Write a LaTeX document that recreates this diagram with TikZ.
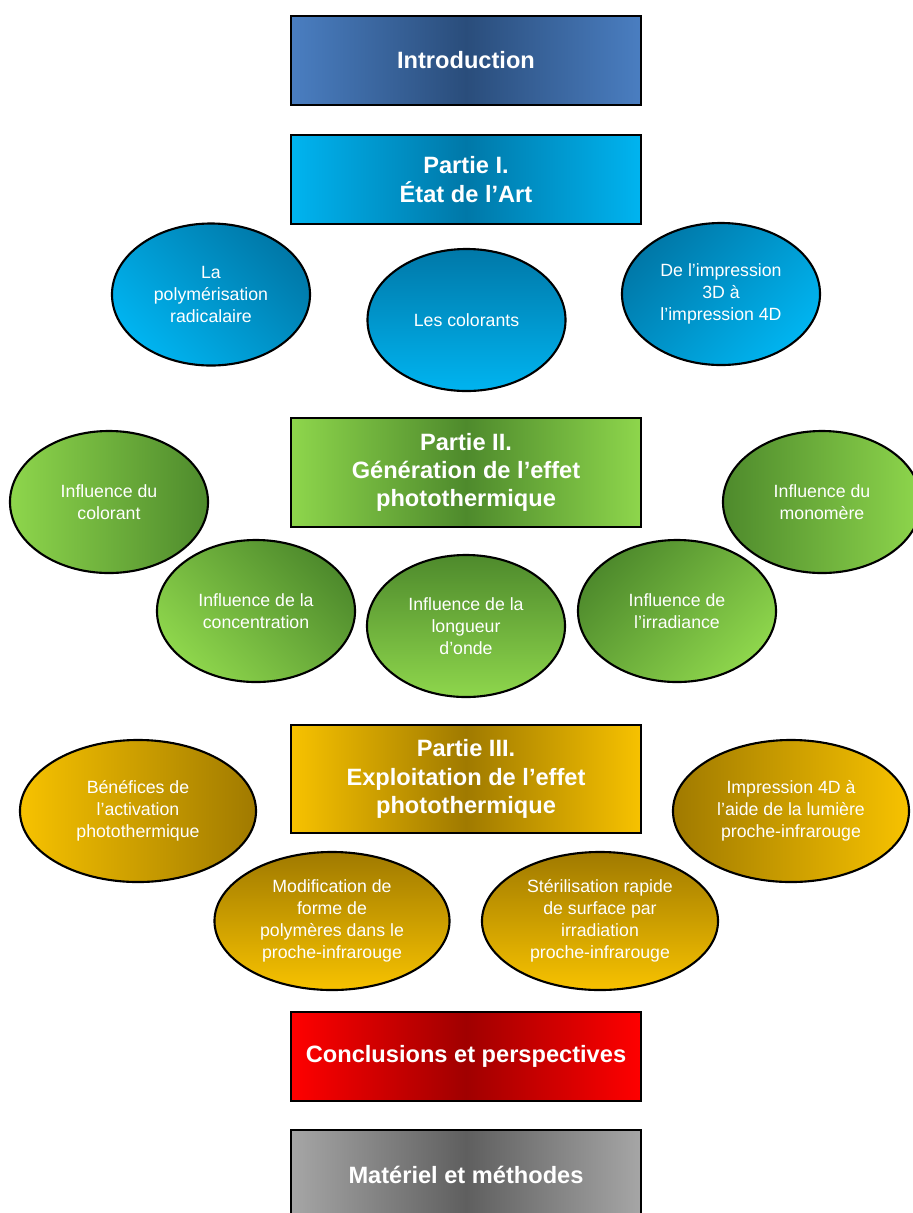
\documentclass[tikz,border=0pt]{standalone}
\usepackage{fontspec}
\setmainfont{Liberation Sans}
\usetikzlibrary{shapes.geometric}

\definecolor{introOut}{HTML}{4A7EC1}
\definecolor{introIn}{HTML}{2A4D7B}
\definecolor{partIOut}{HTML}{00B4F0}
\definecolor{partIIn}{HTML}{0078A8}
\definecolor{partIIOut}{HTML}{8ED64C}
\definecolor{partIIIn}{HTML}{4E8A2C}
\definecolor{partIIIOut}{HTML}{F7C200}
\definecolor{partIIIIn}{HTML}{A07A00}
\definecolor{conclOut}{HTML}{FF0000}
\definecolor{conclIn}{HTML}{A00000}
\definecolor{matOut}{HTML}{A6A6A6}
\definecolor{matIn}{HTML}{5F5F5F}

\begin{document}
\begin{tikzpicture}[x=0.025cm, y=-0.025cm,
	partbox/.style={draw, line width=1.5pt, rectangle, minimum width=8.75cm, minimum height=2.225cm, align=center, text=white, font=\fontsize{16.8}{20}\selectfont\bfseries, left color=#1Out, right color=#1Out, middle color=#1In},
	topic/.style={draw, line width=1.5pt, ellipse, minimum width=4.95cm, minimum height=3.55cm, inner sep=0pt, align=center, text=white, font=\fontsize{12.6}{15.6}\selectfont},
	shadeI/.style={top color=partIIn, bottom color=partIOut, shading angle=#1},
	shadeII/.style={top color=partIIIn, bottom color=partIIOut, shading angle=#1},
	shadeIII/.style={top color=partIIIIn, bottom color=partIIIOut, shading angle=#1}]
	\useasboundingbox (0, 0) rectangle (913, 1213);

	\coordinate (Intro) at (466, 60.5);
	\coordinate (PI) at (466, 179.5);
	\coordinate (PII) at (466, 472.5);
	\coordinate (PIII) at (466, 779);
	\coordinate (Concl) at (466, 1056.5);
	\coordinate (Mat) at (466, 1174.5);

	\node [partbox=intro] (intro) at (Intro) {Introduction};
	\node [partbox=partI] (partI) at (PI) {Partie I.\\État de l’Art};
	\node [partbox=partII, minimum height=2.725cm] (partII) at (PII) {Partie II.\\Génération de l’effet\\photothermique};
	\node [partbox=partIII, minimum height=2.7cm] (partIII) at (PIII) {Partie III.\\Exploitation de l’effet\\photothermique};
	\node [partbox=concl] (concl) at (Concl) {Conclusions et perspectives};
	\node [partbox=mat] (mat) at (Mat) {Matériel et méthodes};

	\node [topic, shadeI=-45] (polym) at (211, 294.5) {La\\polymérisation\\radicalaire};
	\node [topic, shadeI=0] (colorants) at (466.5, 320) {Les colorants};
	\node [topic, shadeI=45] (impr) at (721, 294) {De l’impression\\3D à\\l’impression 4D};

	\node [topic, shadeII=-90] (infColor) at (109, 502) {Influence du\\colorant};
	\node [topic, shadeII=-45] (infConc) at (256, 611) {Influence de la\\concentration};
	\node [topic, shadeII=0] (infLong) at (466, 626) {Influence de la\\longueur\\d’onde};
	\node [topic, shadeII=45] (infIrr) at (677, 611) {Influence de\\l’irradiance};
	\node [topic, shadeII=90] (infMono) at (822, 502) {Influence du\\monomère};

	\node [topic, shadeIII=-90, minimum width=5.9cm] (benef) at (138, 811) {Bénéfices de\\l’activation\\photothermique};
	\node [topic, shadeIII=0, minimum width=5.875cm, minimum height=3.45cm] (modif) at (332, 921) {Modification de\\forme de\\polymères dans le\\proche-infrarouge};
	\node [topic, shadeIII=0, minimum width=5.9cm, minimum height=3.45cm] (steril) at (600, 921) {Stérilisation rapide\\de surface par\\irradiation\\proche-infrarouge};
	\node [topic, shadeIII=90, minimum width=5.9cm] (impr4D) at (791, 811) {Impression 4D à\\l’aide de la lumière\\proche-infrarouge};
\end{tikzpicture}
\end{document}
